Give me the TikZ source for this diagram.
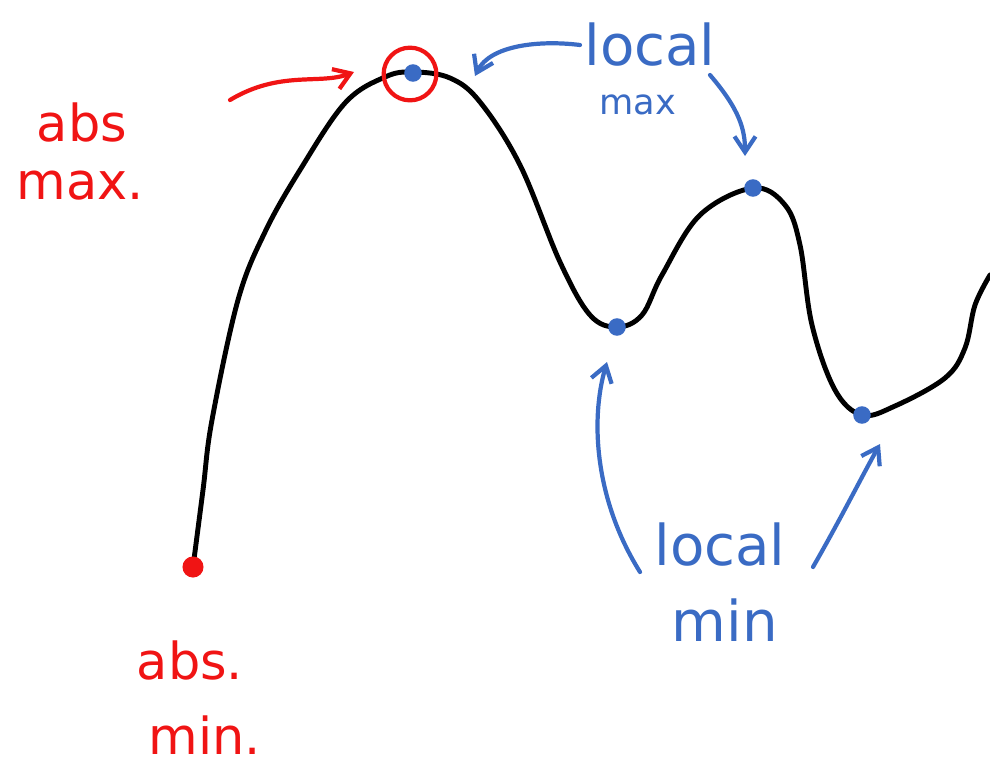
\documentclass[tikz,border=0pt]{standalone}
\usepackage{fontspec}
\setmainfont{DejaVu Sans}
\usetikzlibrary{arrows.meta}
\definecolor{hblue}{RGB}{58,107,196}
\definecolor{hred}{RGB}{240,20,20}
\begin{document}
\begin{tikzpicture}[x=0.02cm,y=-0.02cm,
  redink/.style={draw=hred,line width=2.4pt,line cap=round},
  blueink/.style={draw=hblue,line width=2.4pt,line cap=round},
  arr/.style={-{Straight Barb[length=9pt,width=12pt,line width=2.4pt]}},
  redtxt/.style={text=hred,font=\fontsize{29}{32}\selectfont},
  bluetxt/.style={text=hblue,font=\fontsize{32}{36}\selectfont},
  bluesmall/.style={text=hblue,font=\fontsize{20}{24}\selectfont},
  dotb/.style={circle,fill=hblue,inner sep=0pt,minimum size=10pt},
]
\useasboundingbox (0,0) rectangle (990,768);
% curve
\draw[line width=2.8pt,line cap=round,line join=round] plot[smooth,tension=0.6] coordinates {
 (193,567) (203,490) (212,420) (238,300) (265,232) (300,170) (345,103) (385,77) (413,72) (450,78) (480,102)
 (520,165) (560,262) (590,315) (617,327) (642,315) (662,275) (700,215) (753,188) (785,205) (800,245)
 (812,325) (835,390) (862,415) (895,406) (945,378) (965,348) (975,305) (990,275)};
% points
\node[circle,fill=hred,inner sep=0pt,minimum size=12pt] (amin) at (193,567) {};
\node[dotb] (p1) at (413,73) {};
\node[circle,draw=hred,line width=2.4pt,inner sep=0pt,minimum size=30pt] (amax) at (410,74) {};
\node[dotb] (p2) at (753,188) {};
\node[dotb] (p3) at (617,327) {};
\node[dotb] (p4) at (862,415) {};
% texts
\node[redtxt] (t1) at (82,122) {abs};
\node[redtxt] (t2) at (80,186) {max.};
\node[bluetxt] (t3) at (650,45) {local};
\node[bluesmall] (t4) at (638,105) {max};
\node[bluetxt] (t5) at (720,545) {local};
\node[bluetxt] (t6) at (725,620) {min};
\node[redtxt] (t7) at (190,660) {abs.};
\node[redtxt] (t8) at (205,735) {min.};
% arrows
\coordinate (r0) at (230,100);
\coordinate (b0) at (580,45);
\coordinate (b1) at (710,75);
\coordinate (b2) at (640,572);
\coordinate (b3) at (813,567);
\draw[redink,arr] (r0) .. controls (280,70) and (320,85) .. (354,72);
\draw[blueink,arr] (b0) .. controls (540,40) and (490,45) .. (475,76);
\draw[blueink,arr] (b1) .. controls (740,110) and (745,130) .. (745,156);
\draw[blueink,arr] (b2) .. controls (595,500) and (590,420) .. (607,362);
\draw[blueink,arr] (b3) .. controls (840,520) and (860,480) .. (880,444);
\end{tikzpicture}
\end{document}
